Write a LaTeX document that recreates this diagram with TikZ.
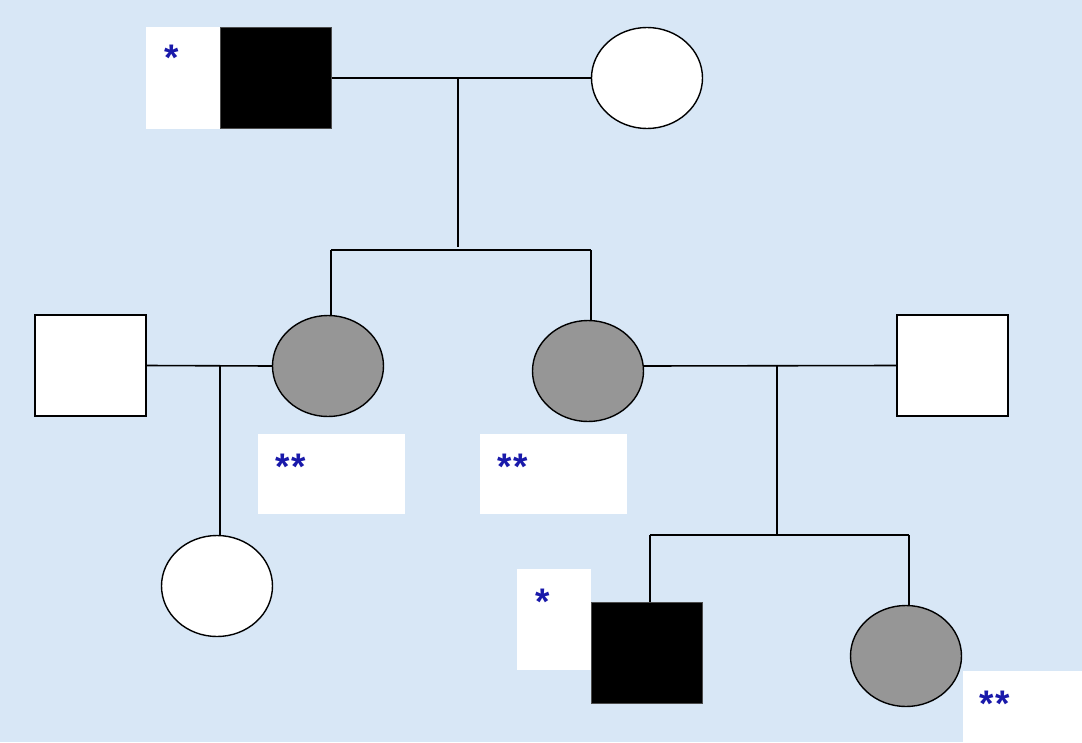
\documentclass[tikz,border=0pt]{standalone}
\usepackage{fontspec}
\setmainfont{Liberation Sans}
\usetikzlibrary{shapes.geometric}
\definecolor{paper}{RGB}{216,231,246}
\definecolor{starblue}{RGB}{25,25,170}
\definecolor{carriergray}{RGB}{150,150,150}
\begin{document}
\begin{tikzpicture}[x=1pt,y=-1pt,
  line/.style={line width=1.6pt,black},
  male/.style={draw=black,line width=1.2pt,fill=white,minimum width=111pt,minimum height=101pt,inner sep=0pt},
  female/.style={ellipse,draw=black,line width=1.4pt,fill=white,minimum width=111pt,minimum height=101pt,inner sep=0pt},
  affected/.style={fill=black,draw=black!70},
  carrier/.style={fill=carriergray},
  tagbox/.style={fill=white,draw=none,inner sep=0pt},
  starmark/.style={font=\bfseries\fontsize{37}{37}\selectfont,text=starblue,inner sep=0pt,anchor=base west}
]
\useasboundingbox (0,0) rectangle (1082,742);
\fill[paper] (0,0) rectangle (1082,742);

% generation I
\node[tagbox,minimum width=74pt,minimum height=102pt] (t1) at (183,78) {};
\node[starmark] (s1) at (164,70) {*};
\node[male,affected] (gf) at (276,78) {};
\node[female] (gm) at (647,78) {};
\coordinate (m1) at (458,78);
\coordinate (d1) at (458,247);
\draw[line] (gf.east) -- (gm.west);
\draw[line] (m1) -- (d1);

% generation II
\node[male] (h1) at (90.5,365.5) {};
\node[female,carrier] (w1) at (328,366) {};
\node[female,carrier] (w2) at (588,371) {};
\node[male] (h2) at (952.5,365.5) {};
\coordinate (sl) at (331,250);
\coordinate (sr) at (591,250);
\draw[line] (sl) -- (sr);
\draw[line] (sl) -- (331,316);
\draw[line] (sr) -- (591,321);

\node[tagbox,minimum width=147pt,minimum height=80pt] (t2) at (331.5,474) {};
\node[starmark] (s2) at (275,479) {*\kern1.5pt*};
\node[tagbox,minimum width=147pt,minimum height=80pt] (t3) at (553.5,474) {};
\node[starmark] (s3) at (497,479) {*\kern1.5pt*};

% left family
\coordinate (m2) at (220,366);
\draw[line] (h1.east) -- (w1.west);
\node[female] (c1) at (217,586) {};
\draw[line] (m2) -- (c1.north -| m2);

% right family
\coordinate (m3) at (777,366);
\draw[line] (643,366) -- (h2.west);
\coordinate (d3) at (777,535);
\draw[line] (m3) -- (d3);
\coordinate (ql) at (650,535);
\coordinate (qr) at (909,535);
\draw[line] (ql) -- (qr);

% generation III
\node[tagbox,minimum width=74pt,minimum height=101pt] (t4) at (554,619.5) {};
\node[starmark] (s4) at (535,614) {*};
\node[male,affected] (son) at (647,653) {};
\node[female,carrier] (dau) at (906,656) {};
\draw[line] (ql) -- (ql |- son.north);
\draw[line] (qr) -- (909,606);

\node[tagbox,minimum width=120pt,minimum height=72pt] (t5) at (1023,707) {};
\node[starmark] (s5) at (979,716) {*\kern1.5pt*};
\end{tikzpicture}
\end{document}
